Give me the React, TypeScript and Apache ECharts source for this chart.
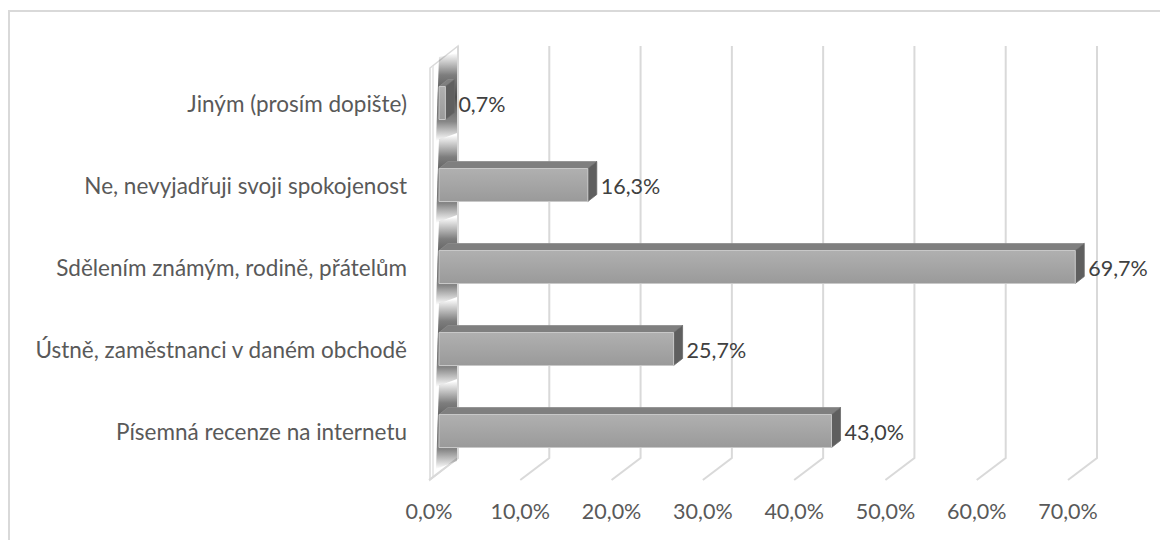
import React, { useEffect, useRef } from "react";
import * as echarts from "echarts";

// Survey answers, listed bottom-to-top as they appear on the category axis
const categories = [
  "Písemná recenze na internetu",
  "Ústně, zaměstnanci v daném obchodě",
  "Sdělením známým, rodině, přátelům",
  "Ne, nevyjadřuji svoji spokojenost",
  "Jiným (prosím dopište)",
];
const shares = [43.0, 25.7, 69.7, 16.3, 0.7];
const axisTicks = [0, 10, 20, 30, 40, 50, 60, 70];

const FONT = "Lato, 'Open Sans', sans-serif";
const pct = (v: number) => v.toFixed(1).replace(".", ",") + "%";

// pseudo-3D geometry
const FLOOR_DEPTH = 29; // horizontal shift from front floor edge to back wall
const BAR_OFFSET = 10; // bar front face sits slightly behind the floor front edge
const BAR_DX = 9;
const BAR_DY = 7;
const BAR_HALF = 16.5;

export default function App() {
  const ref = useRef<HTMLDivElement>(null);

  useEffect(() => {
    if (!ref.current) return;
    const chart = echarts.init(ref.current, null, { renderer: "svg" });

    const gridStroke = { stroke: "#d9d9d9", lineWidth: 2, fill: null };

    const option: any = {
      animation: false,
      backgroundColor: "#ffffff",
      graphic: [
        {
          type: "rect",
          shape: { x: 9, y: 11, width: 1200, height: 600 },
          style: { fill: "none", stroke: "#d9d9d9", lineWidth: 2 },
          silent: true,
        },
      ],
      grid: { left: 429, right: 92, top: 62, height: 410, containLabel: false },
      xAxis: {
        type: "value",
        min: 0,
        max: 70,
        interval: 10,
        axisLine: { show: false },
        axisTick: { show: false },
        splitLine: { show: false },
        axisLabel: {
          margin: 28,
          color: "#595959",
          fontFamily: FONT,
          fontSize: 21.5,
          formatter: (v: number) => pct(v),
        },
      },
      yAxis: {
        type: "category",
        data: categories,
        axisLine: { show: false },
        axisTick: { show: false },
        splitLine: { show: false },
        axisLabel: {
          margin: 22,
          color: "#595959",
          fontFamily: FONT,
          fontSize: 22.5,
          padding: [10, 0, 0, 0],
        },
      },
      series: [
        {
          // back-wall gridlines with their floor diagonals, plus the side wall at 0
          type: "custom",
          z: 1,
          silent: true,
          clip: false,
          data: axisTicks.map((t) => [t, 0]),
          renderItem: (params: any, api: any) => {
            const cs = params.coordSys;
            const x = api.coord([api.value(0), 0])[0];
            const backTop = cs.y - 16;
            const floorBack = cs.y + cs.height - 14;
            const floorFront = cs.y + cs.height + 8;
            const children: any[] = [];
            if (api.value(0) === 0) {
              children.push({
                type: "polygon",
                shape: {
                  points: [
                    [x + 1, backTop + 22],
                    [x + FLOOR_DEPTH, backTop],
                    [x + FLOOR_DEPTH, floorBack],
                    [x + 1, floorFront],
                  ],
                },
                style: { fill: "#ffffff", stroke: "#d9d9d9", lineWidth: 1.5 },
              });
              children.push({
                type: "polyline",
                shape: {
                  points: [
                    [x + 4, backTop + 20],
                    [x + 4, floorFront - 3],
                  ],
                },
                style: { stroke: "#e2e2e2", lineWidth: 1.5, fill: null },
              });
            }
            children.push({
              type: "polyline",
              shape: {
                points: [
                  [x + FLOOR_DEPTH, backTop],
                  [x + FLOOR_DEPTH, floorBack],
                  [x, floorFront],
                ],
              },
              style: gridStroke,
            });
            return { type: "group", children };
          },
        },
        {
          // 3D bars with their soft shadows on the side wall
          type: "custom",
          z: 2,
          clip: false,
          data: shares.map((v, i) => [v, i]),
          renderItem: (params: any, api: any) => {
            const v = api.value(0);
            const [x0raw, yc] = api.coord([0, api.value(1)]);
            const x1raw = api.coord([v, api.value(1)])[0];
            const x0 = x0raw + BAR_OFFSET;
            const x1 = x1raw + BAR_OFFSET;
            const yt = yc - BAR_HALF;
            const yb = yc + BAR_HALF;
            return {
              type: "group",
              children: [
                {
                  type: "polygon",
                  shape: {
                    points: [
                      [x0raw + 10, yc - 46],
                      [x0raw + 28, yc - 50],
                      [x0raw + 28, yc + 30],
                      [x0raw + 7, yc + 38],
                    ],
                  },
                  style: {
                    fill: new echarts.graphic.LinearGradient(0, 0, 0, 1, [
                      { offset: 0, color: "rgba(70,70,70,0)" },
                      { offset: 0.25, color: "rgba(70,70,70,0.7)" },
                      { offset: 0.5, color: "rgba(60,60,60,0.9)" },
                      { offset: 0.78, color: "rgba(70,70,70,0.65)" },
                      { offset: 1, color: "rgba(70,70,70,0)" },
                    ]),
                  },
                },
                {
                  type: "polygon",
                  shape: {
                    points: [
                      [x0, yt],
                      [x1, yt],
                      [x1 + BAR_DX, yt - BAR_DY],
                      [x0 + BAR_DX, yt - BAR_DY],
                    ],
                  },
                  style: { fill: "#7f7f7f", stroke: "#8c8c8c", lineWidth: 0.8 },
                },
                {
                  type: "polygon",
                  shape: {
                    points: [
                      [x1, yt],
                      [x1 + BAR_DX, yt - BAR_DY],
                      [x1 + BAR_DX, yb - BAR_DY],
                      [x1, yb],
                    ],
                  },
                  style: { fill: "#5f5f5f", stroke: "#6a6a6a", lineWidth: 0.8 },
                },
                {
                  type: "rect",
                  shape: { x: x0, y: yt, width: Math.max(x1 - x0, 0.5), height: yb - yt },
                  style: {
                    fill: new echarts.graphic.LinearGradient(0, 0, 0, 1, [
                      { offset: 0, color: "#b0b0b0" },
                      { offset: 1, color: "#9a9a9a" },
                    ]),
                    stroke: "#c8c8c8",
                    lineWidth: 1,
                  },
                },
                {
                  type: "text",
                  style: {
                    x: x1 + BAR_DX + 4,
                    y: yc + 1,
                    text: pct(v),
                    fill: "#404040",
                    font: `21.5px ${FONT}`,
                    align: "left",
                    verticalAlign: "middle",
                  },
                },
              ],
            };
          },
        },
      ],
    };

    chart.setOption(option);
    return () => chart.dispose();
  }, []);

  return (
    <div
      ref={ref}
      style={{ position: "fixed", left: 0, top: 0, width: 1160, height: 540, background: "#fff" }}
    />
  );
}
